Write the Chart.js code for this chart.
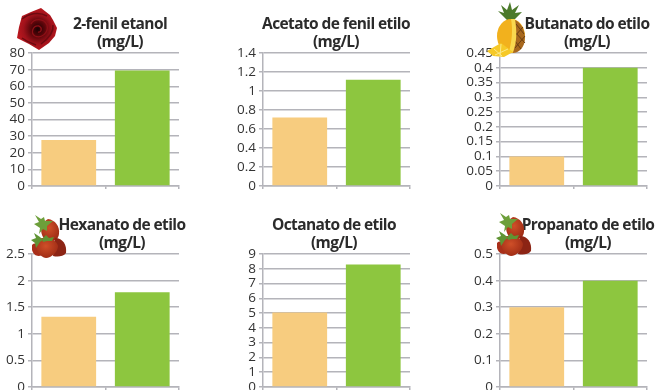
<!DOCTYPE html>
<html lang="pt">
<head>
  <meta charset="UTF-8">
  <title>Ésteres e álcoois</title>
  <script src="https://cdn.jsdelivr.net/npm/chart.js"></script>
  <style>
    body { margin: 0; background: #fff; }
    #page { position: relative; width: 655px; height: 390px; overflow: hidden; }
    canvas { position: absolute; }
    .title {
      position: absolute;
      width: 200px;
      text-align: center;
      font: 700 15.5px/18px 'Open Sans', sans-serif;
      letter-spacing: -0.6px;
      color: #2b2b2b;
      z-index: 1;
    }
    svg { position: absolute; z-index: 2; }
  </style>
</head>
<body>
  <div id="page">
    <!-- rose -->
    <svg style="left:16px;top:7px" width="42" height="44" viewBox="0 0 42 44">
      <defs>
        <radialGradient id="rose" cx="0.52" cy="0.5" r="0.55"><stop offset="0" stop-color="#1a0103"/><stop offset="0.3" stop-color="#560509"/><stop offset="0.65" stop-color="#a0121b"/><stop offset="1" stop-color="#c0191f"/></radialGradient>
      </defs>
      <path d="M6 9 L15 5 L25 1 L34 8 L37 13 L41 21 L39 29 L33 36 L23 43 L13 37 L1 31 L3 20 Z" fill="url(#rose)"/>
      <path d="M15 17 C18 11 28 11 31 18 C33 26 25 32 19 29 C14 26 17 18 23 19 C27 21 25 26 22 25" fill="none" stroke="#8e1017" stroke-width="1.3"/>
      <path d="M6 12 C12 7 22 4 31 9 M37 18 C38 25 33 31 25 37 M6 31 C10 34 14 36 20 38" fill="none" stroke="#6e0a10" stroke-width="1.5"/>
    </svg>
    <!-- pineapple -->
    <svg style="left:487px;top:2px" width="39" height="56" viewBox="0 0 39 56">
      <path d="M21 19 L11 9 L17 11 L14 3 L20 8 L23 0 L25 8 L32 3 L28 11 L35 10 L26 19 Z" fill="#4b7a2a"/>
      <ellipse cx="24" cy="34" rx="14" ry="17" fill="#f2b11d"/>
      <path d="M26 17 C35 20 40 31 37 42 C35 48 30 51 26 51 C28 40 28 28 26 17 Z" fill="#a8681e"/>
      <path d="M29 22 L37 32 M28 30 L38 41 M28 39 L34 47 M36 25 L28 34 M38 34 L28 46" stroke="#6b3f12" stroke-width="1"/>
      <path d="M24 17 L28 17 C30 30 30 40 26 50 L22 50 C25 38 26 28 24 17 Z" fill="#f9d84f"/>
      <path d="M0 49 L14 41 L26 50 L17 55 L6 54 Z" fill="#f6c927"/>
      <path d="M7 47 L15 54 M14 42 L13 55 M21 47 L8 53" stroke="#fbe98a" stroke-width="1"/>
    </svg>
    <!-- strawberries, used twice -->
    <svg style="left:31px;top:214px" width="36" height="44" viewBox="0 0 36 44">
      <defs>
        <radialGradient id="berry" cx="0.45" cy="0.4" r="0.65"><stop offset="0" stop-color="#cf4f28"/><stop offset="1" stop-color="#9c2a14"/></radialGradient>
        <g id="berries">
          <path d="M17 5 C24 6 29 12 28 20 C27 27 21 28 16 27 C10 24 9 15 11 9 Z" fill="url(#berry)"/>
          <path d="M9 14 L3 10 L8 8 L4 1 L10 5 L13 3 L14 7 L22 7 L16 12 L16 17 L12 15 L8 20 Z" fill="#6d9f3a"/>
          <path d="M24 24 C32 24 36 31 35 39 C32 43 26 43 22 42 Z" fill="#8c2414"/>
          <path d="M1 31 C4 28 8 30 9 34 L11 41 C7 43 3 42 1 36 Z" fill="#a92f1a"/>
          <path d="M5 26 C12 22 25 24 27 32 C27 38 20 44 15 44 C9 43 4 37 5 26 Z" fill="url(#berry)"/>
          <path d="M0 26 L5 24 L3 19 L9 23 L12 26 L9 28 L5 34 L4 29 Z" fill="#5f9433"/>
          <path d="M11 25 L15 21 L18 24 L23 23 L21 27 L16 27 L12 28 Z" fill="#5f9433"/>
        </g>
      </defs>
      <use href="#berries"/>
    </svg>
    <svg style="left:496px;top:212px" width="36" height="44" viewBox="0 0 36 44"><use href="#berries"/></svg>
  </div>

  <script>
    // categories are not labelled on the axis, only the tick marks show
    const categories = ["", ""];
    const barColors = ["#f7cc7f", "#8dc63f"];

    const feniletanolValues = [27.7, 69.5];
    const acetatoValues = [0.72, 1.12];
    const butanatoValues = [0.1, 0.4];
    const hexanatoValues = [1.32, 1.78];
    const octanatoValues = [5.05, 8.3];
    const propanatoValues = [0.3, 0.4];

    const feniletanolTicks = ["0", "10", "20", "30", "40", "50", "60", "70", "80"];
    const acetatoTicks = ["0", "0.2", "0.4", "0.6", "0.8", "1", "1.2", "1.4"];
    const butanatoTicks = ["0", "0.05", "0.1", "0.15", "0.2", "0.25", "0.3", "0.35", "0.4", "0.45"];
    const hexanatoTicks = ["0", "0.5", "1", "1.5", "2", "2.5"];
    const octanatoTicks = ["0", "1", "2", "3", "4", "5", "6", "7", "8", "9"];
    const propanatoTicks = ["0", "0.1", "0.2", "0.3", "0.4", "0.5"];

    const page = document.getElementById("page");

    function addChart(name, values, tickLabels, step, plotLeft, plotTop, titleCenter) {
      const title = document.createElement("div");
      title.className = "title";
      title.innerHTML = name + "<br>(mg/L)";
      title.style.left = (titleCenter - 100) + "px";
      title.style.top = (plotTop - 38) + "px";
      page.appendChild(title);

      // the canvas leaves room for the tick labels on the left
      const gutter = 36;
      const canvas = document.createElement("canvas");
      canvas.style.left = (plotLeft - gutter) + "px";
      canvas.style.top = (plotTop - 10) + "px";
      canvas.style.width = (gutter + 150) + "px";
      canvas.style.height = "155px";
      canvas.width = gutter + 150;
      canvas.height = 155;
      page.appendChild(canvas);

      new Chart(canvas, {
        type: "bar",
        data: {
          labels: categories,
          datasets: [{
            data: values,
            backgroundColor: barColors,
            barPercentage: 0.745,
            categoryPercentage: 1
          }]
        },
        options: {
          responsive: false,
          animation: false,
          layout: { padding: { top: 10, right: 3, bottom: 0, left: 0 } },
          plugins: { legend: { display: false }, tooltip: { enabled: false } },
          scales: {
            x: {
              afterFit: scale => { scale.height = 3; },
              grid: { color: "#b4b4ba", lineWidth: 1.5, drawOnChartArea: false, tickLength: 3, offset: true },
              border: { color: "#b4b4ba", width: 1.5 },
              ticks: { display: false }
            },
            y: {
              min: 0,
              max: step * (tickLabels.length - 1),
              afterFit: scale => { scale.width = gutter; },
              afterBuildTicks: scale => {
                scale.ticks = tickLabels.map((t, i) => ({ value: i * step }));
              },
              grid: { color: "#b4b4ba", lineWidth: 1.5, tickLength: 4 },
              border: { color: "#b4b4ba", width: 1.5 },
              ticks: {
                autoSkip: false,
                padding: 3,
                color: "#333",
                font: { family: "'Open Sans', sans-serif", size: 13.5 },
                callback: (v, i) => tickLabels[i]
              }
            }
          }
        }
      });
    }

    addChart("2-fenil etanol", feniletanolValues, feniletanolTicks, 10, 32, 52, 120);
    addChart("Acetato de fenil etilo", acetatoValues, acetatoTicks, 0.2, 263, 52, 336);
    addChart("Butanato do etilo", butanatoValues, butanatoTicks, 0.05, 500, 52, 587);
    addChart("Hexanato de etilo", hexanatoValues, hexanatoTicks, 0.5, 32, 253, 122);
    addChart("Octanato de etilo", octanatoValues, octanatoTicks, 1, 263, 253, 334);
    addChart("Propanato de etilo", propanatoValues, propanatoTicks, 0.1, 500, 253, 588);
  </script>
</body>
</html>
